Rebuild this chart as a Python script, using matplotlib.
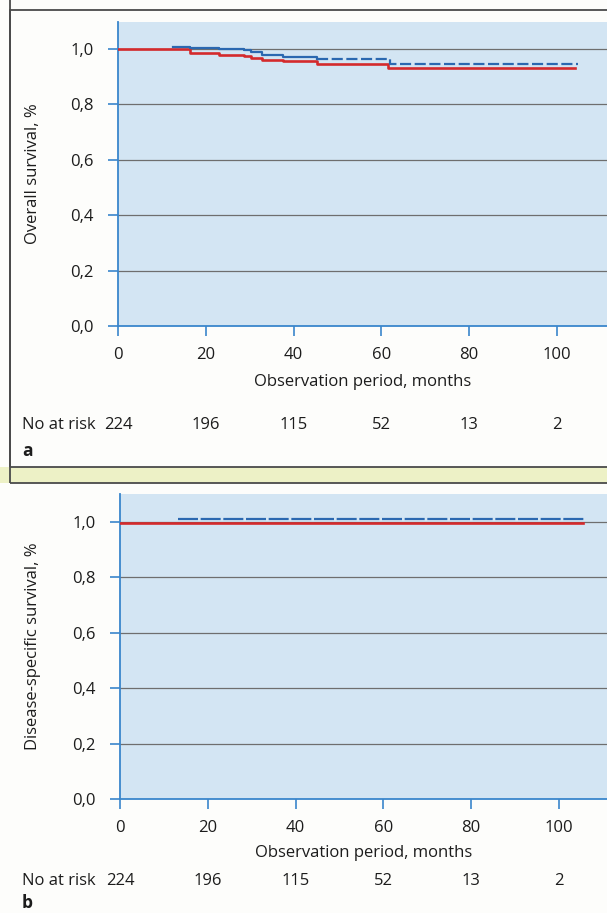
import matplotlib.pyplot as plt
from matplotlib.patches import Rectangle
from matplotlib.transforms import blended_transform_factory

W, H = 607, 913

# survival curves, panel a (overall survival)
red_a_t = [0, 16.5, 23.1, 28.6, 30.2, 32.8, 37.6, 45.3, 61.4, 104.0]
red_a_s = [1.0, 0.987, 0.978, 0.974, 0.969, 0.961, 0.957, 0.946, 0.932, 0.932]
blue_a_t = [12.6, 16.5, 23.1, 28.6, 30.2, 32.8, 37.6, 45.3]
blue_a_s = [1.009, 1.003, 1.0, 0.995, 0.988, 0.978, 0.971, 0.963]
blue_a_tail_t = [45.3, 62.0, 104.8]
blue_a_tail_s = [0.963, 0.945, 0.945]

# panel b (disease-specific survival)
red_b_t = [0, 105.5]
red_b_s = [0.995, 0.995]
blue_b_t = [13.3, 106.0]
blue_b_s = [1.012, 1.012]

xticks = [0, 20, 40, 60, 80, 100]
yticks = [0.0, 0.2, 0.4, 0.6, 0.8, 1.0]
ytick_labels = ["0,0", "0,2", "0,4", "0,6", "0,8", "1,0"]
at_risk = [224, 196, 115, 52, 13, 2]
xlabel = "Observation period, months"
ylabels = ["Overall survival, %", "Disease-specific survival, %"]
panel_tags = ["a", "b"]

RED = "#d42a2c"
BLUE = "#2b68b0"
SPINE = "#3a86cc"
FACE = "#d3e5f3"
GRID = "#6e6e6e"
TXT = "#1c1c1c"
FONT = "Open Sans"
FS = 12

plt.rcParams["font.family"] = [FONT, "DejaVu Sans"]

fig = plt.figure(figsize=(W / 100, H / 100), dpi=100)
fig.patch.set_facecolor("#fdfdfb")


def fx(x):
    return x / W


def fy(y):
    return 1 - y / H


# page decoration: panel frames and scanned band between them
fig.patches.append(Rectangle((0, fy(483)), 1, fy(467) - fy(483), transform=fig.transFigure,
                             facecolor="#edf1c6", edgecolor="none", zorder=0))
fig.patches.append(Rectangle((fx(10), fy(467)), 1.2, fy(10) - fy(467), transform=fig.transFigure,
                             facecolor="none", edgecolor="#4a4a4a", lw=1.3, zorder=1))
fig.patches.append(Rectangle((fx(10), fy(483)), 1.2, 1.0, transform=fig.transFigure,
                             facecolor="none", edgecolor="#4a4a4a", lw=1.3, zorder=1))

# pixel layout of each panel: left, top, bottom, y of 1.0, rows of text
panels = [
    dict(left=118, top=22, bottom=326, one=49, xlab=374, risk=425, tag=451),
    dict(left=120, top=494, bottom=799, one=522, xlab=845, risk=881, tag=903),
]

for i, p in enumerate(panels):
    ax = fig.add_axes([fx(p["left"]), fy(p["bottom"]), 1 - fx(p["left"]),
                       fy(p["top"]) - fy(p["bottom"])])
    ax.set_facecolor(FACE)
    px_per_month = 4.39
    ax.set_xlim(0, (W - p["left"]) / px_per_month)
    unit = p["bottom"] - p["one"]
    ax.set_ylim(0, (p["bottom"] - p["top"]) / unit)

    for s in ["top", "right"]:
        ax.spines[s].set_visible(False)
    for s in ["left", "bottom"]:
        ax.spines[s].set_color(SPINE)
        ax.spines[s].set_linewidth(1.3)

    ax.set_xticks(xticks)
    ax.set_yticks(yticks)
    ax.set_yticklabels(ytick_labels)
    ax.tick_params(axis="both", direction="out", length=7.5, width=1.2, color=SPINE,
                   labelsize=FS, labelcolor=TXT)
    ax.tick_params(axis="x", pad=7.5)
    ax.tick_params(axis="y", pad=10)

    for yv in yticks[1:]:
        ax.axhline(yv, color=GRID, lw=0.9, zorder=1)

    if i == 0:
        ax.step(red_a_t, red_a_s, where="post", color=RED, lw=1.9, zorder=3)
        ax.step(blue_a_t, blue_a_s, where="post", color=BLUE, lw=1.6, zorder=4)
        ax.step(blue_a_tail_t, blue_a_tail_s, where="post", color=BLUE, lw=1.6,
                linestyle=(0, (5, 1.6)), zorder=4)
    else:
        ax.step(red_b_t, red_b_s, where="post", color=RED, lw=1.9, zorder=3)
        ax.step(blue_b_t, blue_b_s, where="post", color=BLUE, lw=1.6,
                linestyle=(0, (9, 1.2)), zorder=4)

    ax.set_xlabel(xlabel, fontsize=FS, color=TXT)
    ax.xaxis.set_label_coords(0.5, (p["bottom"] - p["xlab"]) / (p["bottom"] - p["top"]))
    ax.set_ylabel(ylabels[i], fontsize=FS, color=TXT)
    ax.yaxis.set_label_coords((41 - p["left"]) / (W - p["left"]), 0.5)

    tr = blended_transform_factory(ax.transData, fig.transFigure)
    fig.text(fx(22), fy(p["risk"]), "No at risk", fontsize=FS, color=TXT, va="center")
    for xv, n in zip(xticks, at_risk):
        ax.text(xv, fy(p["risk"]), str(n), transform=tr, fontsize=FS, color=TXT,
                ha="center", va="center", clip_on=False)
    fig.text(fx(22), fy(p["tag"]), panel_tags[i], fontsize=FS + 0.5, fontweight="bold",
             color=TXT, va="center")

fig.savefig("out.png", dpi=100, facecolor=fig.get_facecolor())
